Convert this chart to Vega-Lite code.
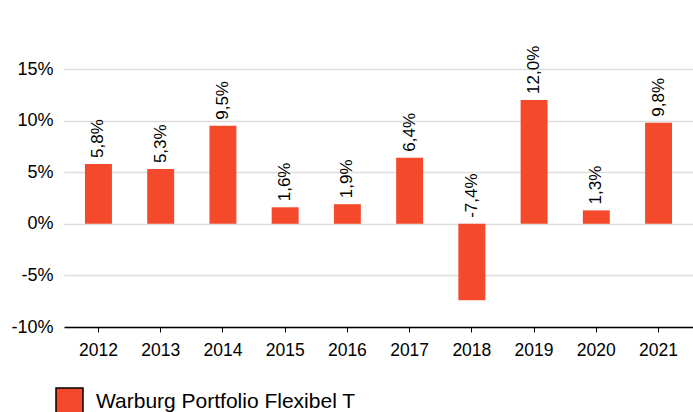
{
  "$schema": "https://vega.github.io/schema/vega-lite/v6.json",
  "width": 629,
  "height": 258,
  "autosize": {"type": "none"},
  "padding": {"left": 64, "top": 69, "right": 0, "bottom": 85},
  "background": "white",
  "config": {
    "font": "Liberation Sans",
    "view": {"stroke": null},
    "locale": {"number": {"decimal": ",", "thousands": ".", "grouping": [3], "currency": ["", " €"], "minus": "-"}}
  },
  "data": {"values": [
    {"year": "2012", "v": 0.058, "fund": "Warburg Portfolio Flexibel T"},
    {"year": "2013", "v": 0.053, "fund": "Warburg Portfolio Flexibel T"},
    {"year": "2014", "v": 0.095, "fund": "Warburg Portfolio Flexibel T"},
    {"year": "2015", "v": 0.016, "fund": "Warburg Portfolio Flexibel T"},
    {"year": "2016", "v": 0.019, "fund": "Warburg Portfolio Flexibel T"},
    {"year": "2017", "v": 0.064, "fund": "Warburg Portfolio Flexibel T"},
    {"year": "2018", "v": -0.074, "fund": "Warburg Portfolio Flexibel T"},
    {"year": "2019", "v": 0.120, "fund": "Warburg Portfolio Flexibel T"},
    {"year": "2020", "v": 0.013, "fund": "Warburg Portfolio Flexibel T"},
    {"year": "2021", "v": 0.098, "fund": "Warburg Portfolio Flexibel T"}
  ]},
  "encoding": {
    "x": {
      "field": "year", "type": "nominal", "title": null,
      "scale": {"paddingInner": 0.567, "paddingOuter": 0.337},
      "axis": {
        "labelAngle": 0, "labelFontSize": 17.5, "labelColor": "#000",
        "domainColor": "#000", "domainWidth": 1.5,
        "tickColor": "#000", "tickSize": 5, "labelPadding": 9, "grid": false
      }
    }
  },
  "layer": [
    {
      "mark": {"type": "bar", "color": "#f44a2b"},
      "encoding": {
        "y": {
          "field": "v", "type": "quantitative", "title": null,
          "scale": {"domain": [-0.1, 0.15], "nice": false, "zero": false},
          "axis": {
            "values": [-0.1, -0.05, 0, 0.05, 0.1, 0.15],
            "format": ".0%", "labelFontSize": 18, "labelColor": "#000",
            "domain": false, "ticks": false, "labelPadding": 11,
            "gridColor": "#dddddd", "gridWidth": 1.5
          }
        },
        "color": {
          "field": "fund", "type": "nominal", "title": null,
          "scale": {"range": ["#f44a2b"]},
          "legend": {
            "orient": "none", "legendX": -9, "legendY": 318,
            "symbolType": "square", "symbolSize": 729,
            "symbolStrokeColor": "#000", "symbolStrokeWidth": 1.5,
            "symbolOpacity": 1, "labelLimit": 0,
            "labelFontSize": 21, "labelColor": "#000", "labelOffset": 12
          }
        }
      }
    },
    {
      "mark": {"type": "rule", "color": "#bbbbbb", "strokeWidth": 1.5},
      "encoding": {"y": {"datum": 0, "type": "quantitative"}}
    },
    {
      "transform": [{"calculate": "max(datum.v, 0)", "as": "pos"}],
      "mark": {"type": "text", "angle": 270, "align": "left", "baseline": "middle", "dx": 6, "fontSize": 17, "color": "#000"},
      "encoding": {
        "y": {"field": "pos", "type": "quantitative"},
        "text": {"field": "v", "type": "quantitative", "format": ".1%"}
      }
    }
  ]
}
